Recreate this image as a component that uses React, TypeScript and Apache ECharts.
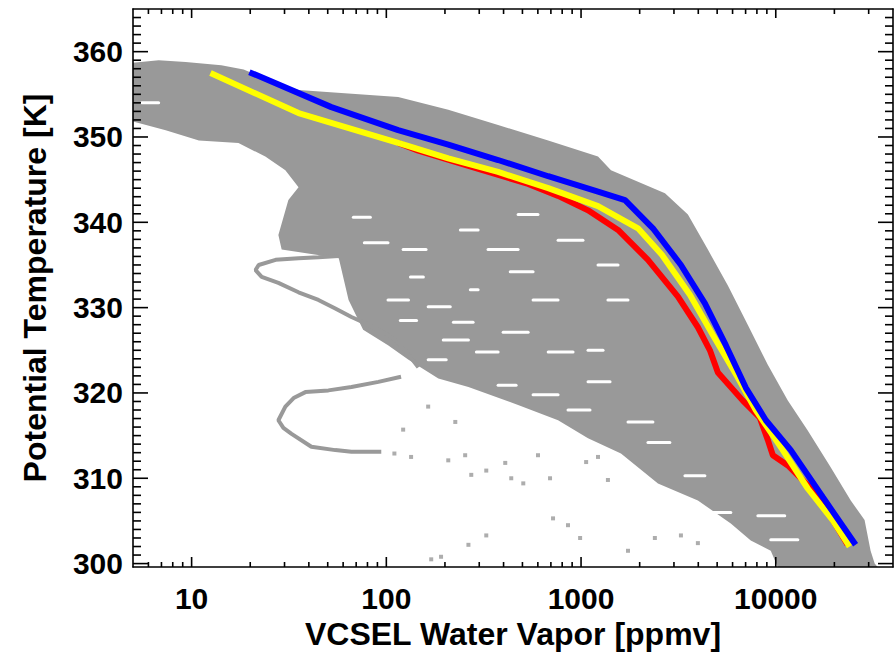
import React, { useEffect, useRef } from "react";
import * as echarts from "echarts";

const X_MIN = 5;
const X_MAX = 40000;
const Y_MIN = 299.6;
const Y_MAX = 365;

const xMajorTicks = [10, 100, 1000, 10000];
const xMinorTicks = [6, 7, 8, 9, 20, 30, 40, 50, 60, 70, 80, 90, 200, 300, 400, 500, 600, 700, 800, 900, 2000, 3000, 4000, 5000, 6000, 7000, 8000, 9000, 20000, 30000];
const yMajorTicks = [300, 310, 320, 330, 340, 350, 360];
const yMinorTicks = [301, 302, 303, 304, 305, 306, 307, 308, 309, 311, 312, 313, 314, 315, 316, 317, 318, 319, 321, 322, 323, 324, 325, 326, 327, 328, 329, 331, 332, 333, 334, 335, 336, 337, 338, 339, 341, 342, 343, 344, 345, 346, 347, 348, 349, 351, 352, 353, 354, 355, 356, 357, 358, 359, 361, 362, 363, 364];

// Gray data cloud: outline of the dense region (ppmv, K)
const cloudX = [5, 6.77, 9.32, 14.2, 18.5, 24.8, 35.4, 115, 208, 375, 678, 1222, 1425, 2698, 3538, 4480, 5675, 7178, 9100, 11530, 14590, 19140, 24270, 28580, 30690, 32200, 33370, 10230, 9425, 7441, 5875, 3981, 2483, 1603, 1086, 762, 475, 264, 185, 130, 102, 76, 64, 57, 29, 27.9, 31.4, 35.4, 30.3, 23.9, 17.4, 10.9, 7.36, 5];
const cloudY = [358.7, 359.0, 358.8, 358.4, 357.9, 356.7, 355.5, 354.7, 353.2, 351.4, 349.6, 347.7, 346.1, 343.4, 340.9, 336.8, 332.6, 328.0, 323.3, 319.1, 315.6, 311.3, 307.4, 305.1, 301.5, 300.0, 299.6, 299.6, 301.5, 302.7, 304.7, 307.4, 309.4, 312.9, 314.7, 316.8, 318.6, 320.7, 321.7, 323.9, 325.6, 327.4, 330.9, 335.8, 336.8, 338.5, 342.6, 344.1, 346.1, 347.7, 349.3, 349.6, 350.8, 351.8];

// White gaps inside the cloud: horizontal streaks from gapX1 to gapX2 at gapY
const gapX1 = [67.7, 77.1, 122, 133, 102, 164, 196, 118, 240, 333, 433, 567, 221, 290, 398, 678, 1086, 857, 1742, 2206, 567, 375, 1086, 1374, 270, 5.54, 475, 762, 1222, 164, 3415, 4645, 8091, 9425];
const gapX2 = [82.8, 102, 160, 155, 130, 213, 264, 143, 296, 475, 567, 762, 279, 375, 535, 910, 1409, 1112, 2339, 2858, 762, 464, 1297, 1742, 296, 6.77, 601, 1023, 1549, 203, 4325, 5875, 11120, 12980];
const gapY = [340.6, 337.6, 336.8, 333.6, 330.9, 330.1, 326.2, 328.5, 339.1, 336.8, 334.2, 330.9, 328.3, 324.8, 327.1, 324.8, 321.3, 318.0, 316.6, 314.2, 319.8, 320.9, 325.0, 330.9, 332.1, 354.0, 340.9, 337.9, 335.0, 323.9, 310.3, 306.0, 305.6, 302.8];

// Thin filaments of data points at the left of the cloud
const fil1X = [56.7, 44.8, 35.4, 27.0, 22.1, 21.3, 22.9, 27.9, 35.4, 44.8, 54.7, 66.2, 80.9, 98.9, 111, 125, 146];
const fil1Y = [336.05, 335.9, 335.8, 335.6, 335.0, 334.4, 333.6, 332.9, 331.8, 330.9, 329.9, 328.9, 328.0, 327.0, 326.2, 325.0, 323.0];
const fil2X = [119, 91, 66.2, 50.4, 38.4, 33.4, 30.3, 27.9, 29.6, 32.6, 41.2, 54.7, 66.2, 94.2];
const fil2Y = [321.9, 321.3, 320.7, 320.3, 320.1, 319.4, 318.4, 316.8, 315.9, 315.2, 313.7, 313.3, 313.1, 313.1];

// Isolated points
const dotX = [110, 134, 208, 254, 273, 326, 326, 264, 170, 191, 408, 438, 505, 693, 718, 857, 989, 1374, 1742, 2394, 3258, 3981, 601, 1062, 1222, 122, 164, 226];
const dotY = [312.9, 312.5, 312.1, 312.7, 310.4, 310.9, 303.3, 302.2, 300.5, 300.8, 311.8, 310.0, 309.4, 310.0, 305.3, 304.5, 303.0, 309.8, 301.5, 303.0, 303.3, 302.4, 312.7, 311.9, 312.5, 315.7, 318.4, 316.6];

// Profiles
const redX = [115, 146, 264, 535, 762, 1086, 1549, 2206, 3144, 3981, 4590, 5043, 6772, 8279, 9100, 9660, 11530, 14590, 18490, 23380];
const redY = [349.3, 348.4, 346.6, 344.5, 343.1, 341.4, 339.1, 335.6, 331.3, 327.7, 325.0, 322.4, 319.1, 317.1, 314.5, 312.7, 311.5, 309.2, 306.1, 302.2];
const yellowX = [12.5, 35.4, 115, 208, 375, 678, 1222, 1960, 2600, 3622, 4753, 6383, 7888, 10864, 14590, 19590, 23930];
const yellowY = [357.5, 352.8, 349.3, 347.5, 345.9, 344.0, 341.9, 339.3, 336.2, 331.5, 326.8, 321.8, 318.0, 313.3, 308.8, 305.1, 302.0];
const blueX = [19.8, 52.2, 115, 208, 375, 678, 1222, 1682, 2339, 3258, 4325, 5540, 7020, 8892, 11940, 17420, 25700];
const blueY = [357.6, 353.5, 350.8, 349.1, 347.3, 345.4, 343.6, 342.6, 339.3, 335.0, 330.5, 325.6, 320.6, 316.8, 313.3, 307.8, 302.2];

const FONT = "Liberation Sans";
const GRAY = "#999999";

const pairs = (xs: number[], ys: number[]) => xs.map((x, i) => [x, ys[i]]);

export default function App() {
  const ref = useRef<HTMLDivElement>(null);
  useEffect(() => {
    const chart = echarts.init(ref.current!, null, { renderer: "svg" });
    const tickStyle = { stroke: "#000", lineWidth: 1.6 };
    const axisCommon = {
      axisLine: { show: true, lineStyle: { color: "#000", width: 1.6 } },
      axisTick: { show: false },
      splitLine: { show: false },
      z: 10,
    };
    const option: any = {
      animation: false,
      backgroundColor: "#fff",
      grid: { left: 133, right: 3, top: 9, bottom: 85 },
      xAxis: [
        {
          ...axisCommon,
          type: "log",
          logBase: 10,
          min: X_MIN,
          max: X_MAX,
          position: "bottom",
          axisLabel: {
            show: true,
            margin: 16,
            color: "#000",
            fontFamily: FONT,
            fontSize: 30,
            fontWeight: "bold",
            showMinLabel: false,
            showMaxLabel: false,
            formatter: (v: number) => String(Math.round(v)),
          },
        },
        {
          ...axisCommon,
          type: "log",
          logBase: 10,
          min: X_MIN,
          max: X_MAX,
          position: "top",
          axisLabel: { show: false },
        },
      ],
      yAxis: [
        {
          ...axisCommon,
          type: "value",
          min: Y_MIN,
          max: Y_MAX,
          splitNumber: 7,
          minInterval: 10,
          maxInterval: 10,
          position: "left",
          axisLabel: {
            show: true,
            margin: 10,
            color: "#000",
            fontFamily: FONT,
            fontSize: 30,
            fontWeight: "bold",
            showMinLabel: false,
            showMaxLabel: false,
          },
        },
        {
          ...axisCommon,
          type: "value",
          min: Y_MIN,
          max: Y_MAX,
          splitNumber: 7,
          minInterval: 10,
          maxInterval: 10,
          position: "right",
          axisLabel: { show: false },
        },
      ],
      graphic: [
        {
          type: "text",
          x: 513,
          y: 634,
          style: {
            text: "VCSEL Water Vapor [ppmv]",
            fill: "#000",
            font: `bold 32px "${FONT}"`,
            align: "center",
            verticalAlign: "middle",
          },
        },
        {
          type: "text",
          x: 35,
          y: 288,
          rotation: Math.PI / 2,
          style: {
            text: "Potential Temperature [K]",
            fill: "#000",
            font: `bold 32px "${FONT}"`,
            align: "center",
            verticalAlign: "middle",
          },
        },
      ],
      series: [
        {
          type: "custom",
          name: "cloud",
          clip: true,
          z: 1,
          data: [[cloudX[0], cloudY[0]]],
          renderItem: (params: any, api: any) => {
            const pts = cloudX.map((x, i) => api.coord([x, cloudY[i]]));
            return { type: "polygon", shape: { points: pts }, style: { fill: GRAY } };
          },
        },
        {
          type: "custom",
          name: "gaps",
          clip: true,
          z: 1,
          encode: { x: 0, y: 1 },
          data: gapX1.map((x, i) => [x, gapY[i], gapX2[i]]),
          renderItem: (params: any, api: any) => {
            const p1 = api.coord([api.value(0), api.value(1)]);
            const p2 = api.coord([api.value(2), api.value(1)]);
            return {
              type: "line",
              shape: { x1: p1[0], y1: p1[1], x2: p2[0], y2: p2[1] },
              style: { stroke: "#ffffff", lineWidth: 3, lineCap: "round" },
            };
          },
        },
        {
          type: "line",
          name: "filament1",
          z: 1,
          data: pairs(fil1X, fil1Y),
          symbol: "none",
          lineStyle: { color: GRAY, width: 4 },
        },
        {
          type: "line",
          name: "filament2",
          z: 1,
          data: pairs(fil2X, fil2Y),
          symbol: "none",
          lineStyle: { color: GRAY, width: 4 },
        },
        {
          type: "scatter",
          name: "dots",
          z: 1,
          data: pairs(dotX, dotY),
          symbol: "rect",
          symbolSize: 4,
          itemStyle: { color: GRAY },
        },
        {
          type: "line",
          name: "red",
          z: 3,
          data: pairs(redX, redY),
          symbol: "none",
          lineStyle: { color: "#ff0000", width: 6 },
        },
        {
          type: "line",
          name: "yellow",
          z: 4,
          data: pairs(yellowX, yellowY),
          symbol: "none",
          lineStyle: { color: "#ffff00", width: 6 },
        },
        {
          type: "line",
          name: "blue",
          z: 5,
          data: pairs(blueX, blueY),
          symbol: "none",
          lineStyle: { color: "#0000ff", width: 6 },
        },
        {
          type: "custom",
          name: "xticks",
          z: 8,
          clip: false,
          encode: { x: 0, y: 1 },
          data: [...xMajorTicks.map((v) => [v, 330, 1]), ...xMinorTicks.map((v) => [v, 330, 0])],
          renderItem: (params: any, api: any) => {
            const cs = params.coordSys;
            const x = api.coord([api.value(0), 330])[0];
            const major = api.value(2) === 1;
            const yb = cs.y + cs.height;
            const yt = cs.y;
            return {
              type: "group",
              children: [
                { type: "line", shape: { x1: x, y1: yb, x2: x, y2: yb - (major ? 10 : 5) }, style: tickStyle },
                { type: "line", shape: { x1: x, y1: yt, x2: x, y2: yt + (major ? 9 : 5) }, style: tickStyle },
              ],
            };
          },
        },
        {
          type: "custom",
          name: "yticks",
          z: 8,
          clip: false,
          encode: { x: 0, y: 1 },
          data: [...yMajorTicks.map((v) => [100, v, 1]), ...yMinorTicks.map((v) => [100, v, 0])],
          renderItem: (params: any, api: any) => {
            const cs = params.coordSys;
            const y = api.coord([100, api.value(1)])[1];
            const major = api.value(2) === 1;
            const xl = cs.x;
            const xr = cs.x + cs.width;
            return {
              type: "group",
              children: [
                { type: "line", shape: { x1: xl, y1: y, x2: xl + (major ? 15 : 8), y2: y }, style: tickStyle },
                { type: "line", shape: { x1: xr, y1: y, x2: xr - (major ? 15 : 8), y2: y }, style: tickStyle },
              ],
            };
          },
        },
      ],
    };
    chart.setOption(option);
    return () => chart.dispose();
  }, []);
  return (
    <div
      ref={ref}
      style={{ position: "fixed", left: 0, top: 0, width: 896, height: 652, background: "#fff" }}
    />
  );
}
